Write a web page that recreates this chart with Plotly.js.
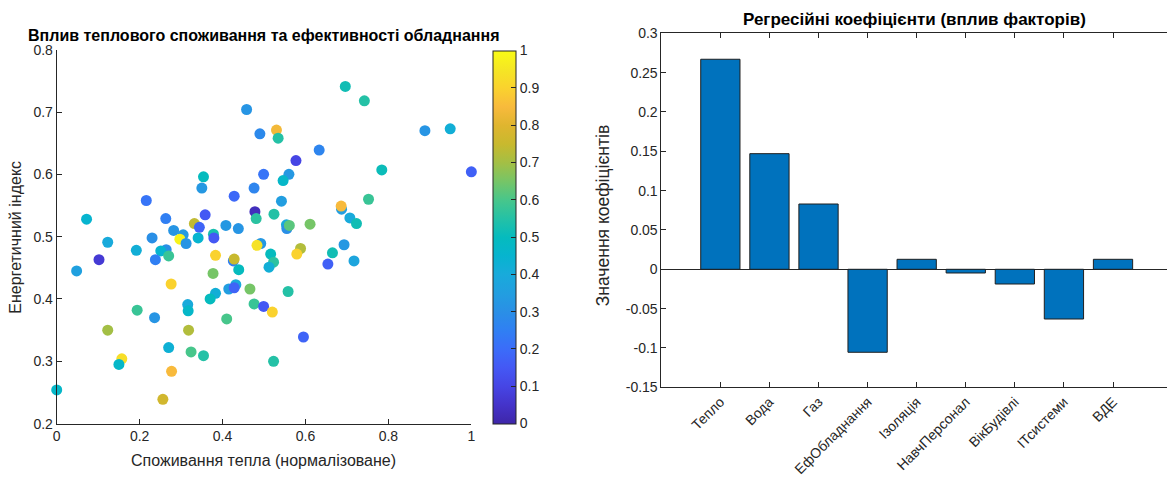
<!DOCTYPE html>
<html>
<head>
<meta charset="utf-8">
<script src="https://cdn.plot.ly/plotly-3.0.1.min.js"></script>
<style>html,body{margin:0;padding:0;background:#fff;}#chart{width:1167px;height:489px;}</style>
</head>
<body>
<div id="chart"></div>
<script>
// ---- Scatter data: heat consumption (normalised) vs energy index, colour = equipment efficiency
const heatUse = [0.696,0.742,0.458,0.530,0.490,0.534,0.888,0.949,0.633,0.577,
  0.784,1.000,0.499,0.560,0.354,0.546,0.350,0.476,0.428,0.216,
  0.752,0.542,0.687,0.686,0.478,0.481,0.524,0.358,0.332,0.072,
  0.263,0.707,0.723,0.611,0.554,0.555,0.561,0.408,0.438,0.344,
  0.378,0.379,0.282,0.305,0.341,0.297,0.312,0.230,0.123,0.192,
  0.102,0.264,0.251,0.270,0.238,0.048,0.492,0.483,0.383,0.426,
  0.428,0.516,0.523,0.512,0.588,0.579,0.665,0.693,0.717,0.654,
  0.439,0.377,0.276,0.432,0.415,0.428,0.466,0.558,0.383,0.370,
  0.476,0.499,0.520,0.316,0.317,0.194,0.236,0.410,0.123,0.318,
  0.595,0.270,0.324,0.354,0.157,0.150,0.523,0.277,0.000,0.256];
const energyIndex = [0.741,0.718,0.704,0.671,0.665,0.658,0.670,0.673,0.639,0.622,
  0.607,0.604,0.600,0.600,0.596,0.590,0.578,0.578,0.565,0.558,
  0.560,0.557,0.544,0.549,0.540,0.529,0.536,0.535,0.521,0.528,
  0.529,0.530,0.521,0.520,0.519,0.513,0.518,0.518,0.513,0.515,
  0.504,0.498,0.510,0.503,0.498,0.496,0.489,0.498,0.491,0.478,
  0.463,0.479,0.477,0.469,0.463,0.445,0.489,0.486,0.470,0.461,
  0.464,0.472,0.459,0.451,0.481,0.472,0.474,0.487,0.461,0.456,
  0.447,0.441,0.424,0.423,0.416,0.418,0.416,0.412,0.409,0.400,
  0.392,0.388,0.379,0.391,0.381,0.382,0.370,0.368,0.350,0.350,
  0.339,0.322,0.315,0.309,0.304,0.295,0.300,0.284,0.254,0.239];
const efficiency = [0.52,0.55,0.32,0.84,0.28,0.55,0.32,0.42,0.27,0.10,
  0.51,0.17,0.22,0.33,0.50,0.47,0.33,0.27,0.19,0.22,
  0.58,0.35,0.35,0.85,0.03,0.56,0.55,0.15,0.74,0.45,
  0.25,0.40,0.52,0.65,0.40,0.30,0.62,0.33,0.32,0.18,
  0.53,0.15,0.32,0.34,0.45,0.98,0.32,0.30,0.40,0.42,
  0.07,0.30,0.45,0.58,0.25,0.36,0.33,0.94,0.90,0.25,
  0.75,0.50,0.56,0.42,0.72,0.90,0.52,0.33,0.38,0.17,
  0.50,0.65,0.90,0.40,0.35,0.18,0.65,0.55,0.42,0.50,
  0.58,0.15,0.90,0.40,0.47,0.58,0.32,0.60,0.70,0.72,
  0.18,0.43,0.60,0.55,0.93,0.47,0.55,0.85,0.47,0.77];
const xTickVals = [0,0.2,0.4,0.6,0.8,1];
const xTickText = ['0','0.2','0.4','0.6','0.8','1'];
const yTickVals = [0.2,0.3,0.4,0.5,0.6,0.7,0.8];
const yTickText = ['0.2','0.3','0.4','0.5','0.6','0.7','0.8'];
const cbTickVals = [0,0.1,0.2,0.3,0.4,0.5,0.6,0.7,0.8,0.9,1];
const cbTickText = ['0','0.1','0.2','0.3','0.4','0.5','0.6','0.7','0.8','0.9','1'];

// ---- Bar data: regression coefficients
const factors = ['Тепло','Вода','Газ','ЕфОбладнання','Ізоляція','НавчПерсонал','ВікБудівлі','ІТсистеми','ВДЕ'];
const coefficients = [0.267,0.147,0.083,-0.1055,0.0127,-0.0047,-0.0187,-0.0632,0.0127];
const coefTickVals = [-0.15,-0.1,-0.05,0,0.05,0.1,0.15,0.2,0.25,0.3];
const coefTickText = ['-0.15','-0.1','-0.05','0','0.05','0.1','0.15','0.2','0.25','0.3'];

const parula = [
  [0.00,'#3e26a8'],[0.05,'#4433c9'],[0.10,'#4645e4'],[0.15,'#4458f4'],
  [0.20,'#3b6cf9'],[0.25,'#307ff3'],[0.30,'#2a8fe6'],[0.35,'#229ee0'],
  [0.40,'#19aadb'],[0.45,'#07b4cf'],[0.50,'#05bbbe'],[0.55,'#24c1a6'],
  [0.60,'#47c68b'],[0.65,'#76c567'],[0.70,'#a3bf45'],[0.75,'#c8b92e'],
  [0.80,'#dfb52f'],[0.85,'#f8ba3c'],[0.90,'#fad22e'],[0.95,'#f5e624'],
  [1.00,'#f9fb15']];

const ink = '#262626';
const font = 'Liberation Sans, Arial, Helvetica, sans-serif';

const scatter = {
  type: 'scatter', mode: 'markers', x: heatUse, y: energyIndex,
  xaxis: 'x', yaxis: 'y', cliponaxis: false,
  marker: {
    size: 11, color: efficiency, colorscale: parula, cmin: 0, cmax: 1,
    line: {width: 0}, showscale: true,
    colorbar: {
      x: 0.4227, xanchor: 'left', y: 0.5153, yanchor: 'middle',
      len: 0.762, lenmode: 'fraction', thickness: 23, thicknessmode: 'pixels',
      outlinewidth: 1, outlinecolor: ink, borderwidth: 0, xpad: 0, ypad: 0,
      ticks: 'inside', ticklen: 5, tickcolor: ink, tickwidth: 1,
      tickvals: cbTickVals, ticktext: cbTickText,
      tickfont: {family: font, size: 14, color: ink}
    }
  }
};

const bars = {
  type: 'bar', x: factors, y: coefficients, xaxis: 'x2', yaxis: 'y2', width: 0.8,
  marker: {color: '#0072BD', line: {color: '#1f1f1f', width: 1}}
};

const axisCommon = {
  showline: true, linecolor: ink, linewidth: 1, ticks: 'inside', ticklen: 5,
  tickcolor: ink, tickwidth: 1, showgrid: false, zeroline: false,
  tickfont: {family: font, size: 14, color: ink}, automargin: false, fixedrange: true
};

const layout = {
  width: 1167, height: 489, margin: {l: 0, r: 0, t: 0, b: 0},
  paper_bgcolor: '#ffffff', plot_bgcolor: '#ffffff', showlegend: false,
  font: {family: font, color: ink},
  xaxis: Object.assign({}, axisCommon, {domain: [0.0486, 0.4039], range: [0, 1], anchor: 'y',
    tickmode: 'array', tickvals: xTickVals, ticktext: xTickText}),
  yaxis: Object.assign({}, axisCommon, {domain: [0.1337, 0.8984], range: [0.2, 0.8], anchor: 'x',
    tickmode: 'array', tickvals: yTickVals, ticktext: yTickText}),
  xaxis2: Object.assign({}, axisCommon, {domain: [0.5668, 1.0], range: [-1.2, 9.10], anchor: 'y2',
    type: 'category', tickangle: -45, mirror: 'ticks'}),
  yaxis2: Object.assign({}, axisCommon, {domain: [0.208, 0.9319], range: [-0.15, 0.3], anchor: 'x2',
    tickmode: 'array', tickvals: coefTickVals, ticktext: coefTickText,
    zeroline: true, zerolinecolor: ink, zerolinewidth: 1}),
  annotations: [
    {text: '<b>Вплив теплового споживання та ефективності обладнання</b>', xref: 'paper', yref: 'paper',
     x: 0.2262, y: 0.9274, xanchor: 'center', yanchor: 'middle', showarrow: false,
     font: {family: font, size: 16, color: '#000'}},
    {text: '<b>Регресійні коефіцієнти (вплив факторів)</b>', xref: 'paper', yref: 'paper',
     x: 0.784, y: 0.9611, xanchor: 'center', yanchor: 'middle', showarrow: false,
     font: {family: font, size: 17, color: '#000'}},
    {text: 'Споживання тепла (нормалізоване)', xref: 'paper', yref: 'paper',
     x: 0.2262, y: 0.0593, xanchor: 'center', yanchor: 'middle', showarrow: false,
     font: {family: font, size: 16, color: ink}},
    {text: 'Енергетичний індекс', xref: 'paper', yref: 'paper', textangle: -90,
     x: 0.0137, y: 0.516, xanchor: 'center', yanchor: 'middle', showarrow: false,
     font: {family: font, size: 16, color: ink}},
    {text: 'Значення коефіцієнтів', xref: 'paper', yref: 'paper', textangle: -90,
     x: 0.5163, y: 0.5589, xanchor: 'center', yanchor: 'middle', showarrow: false,
     font: {family: font, size: 17.5, color: ink}}
  ]
};

Plotly.newPlot('chart', [scatter, bars], layout, {staticPlot: true, displayModeBar: false});
</script>
</body>
</html>
